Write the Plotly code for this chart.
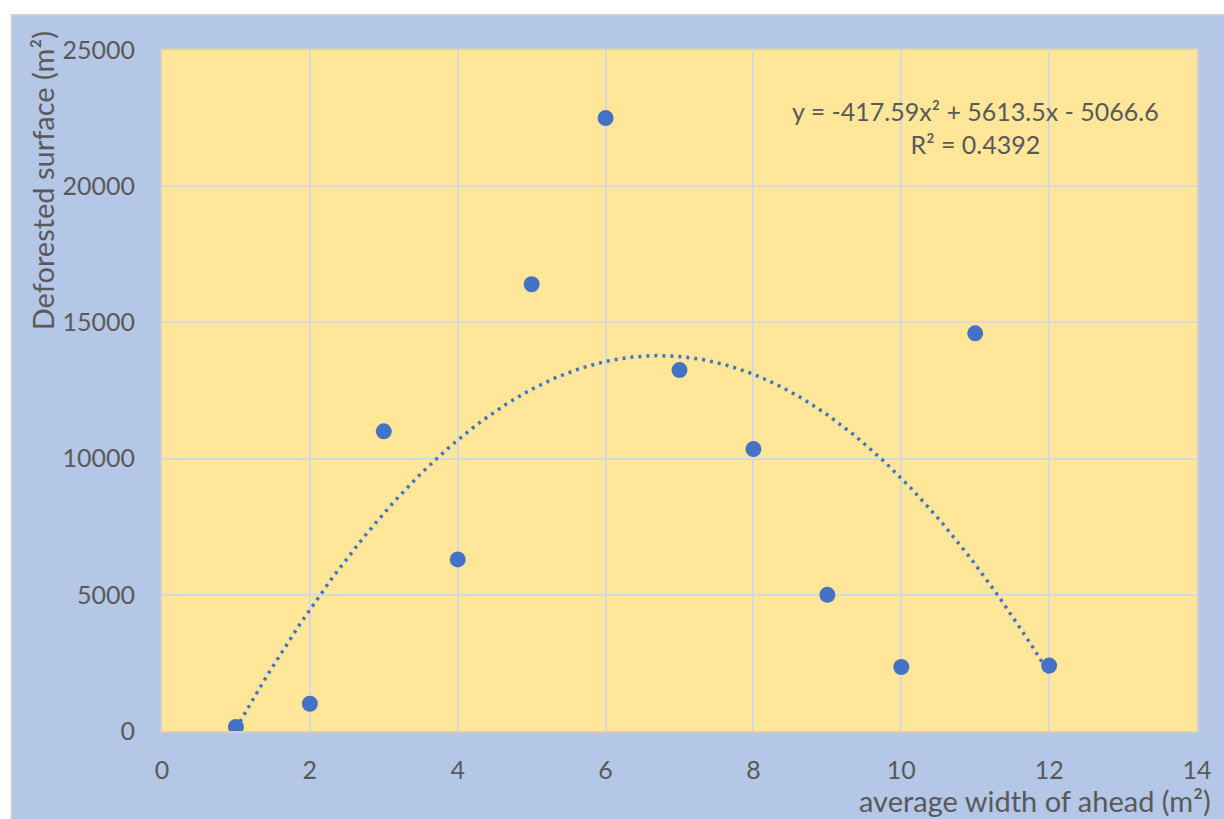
import numpy as np
import plotly.graph_objects as go

# data
width_ahead = [1, 2, 3, 4, 5, 6, 7, 8, 9, 10, 11, 12]
deforested = [150, 1000, 11000, 6300, 16400, 22500, 13250, 10350, 5000, 2350, 14600, 2400]
x_ticks = [0, 2, 4, 6, 8, 10, 12, 14]
y_ticks = [0, 5000, 10000, 15000, 20000, 25000]
equation_text = "y = -417.59x² + 5613.5x - 5066.6<br>R² = 0.4392"

# polynomial (order 2) trendline fitted on the data
coef = np.polyfit(width_ahead, deforested, 2)
xs = np.linspace(min(width_ahead), max(width_ahead), 200)
ys = np.polyval(coef, xs)

W, H = 1224, 819
L, R, T, B = 162, 16, 50, 88
PW, PH = W - L - R, H - T - B

def px_x(p):
    return (p - L) / PW

def px_y(p):
    return 1 - (p - T) / PH

BLUE = "#B4C7E7"
YELLOW = "#FFE699"
MARK = "#4472C4"
TXT = "#595959"
FONT = "Lato, Open Sans, sans-serif"

fig = go.Figure()
fig.add_trace(go.Scatter(x=xs, y=ys, mode="lines",
                         line=dict(color=MARK, width=3.5, dash="3px,5px"),
                         hoverinfo="skip", showlegend=False))
fig.add_trace(go.Scatter(x=width_ahead, y=deforested, mode="markers",
                         marker=dict(color=MARK, size=16),
                         showlegend=False))

shapes = [
    dict(type="rect", xref="paper", yref="paper", x0=-1, x1=2, y0=px_y(15), y1=2,
         fillcolor="white", line=dict(width=0), layer="below"),
    dict(type="rect", xref="paper", yref="paper", x0=-1, x1=px_x(10), y0=-1, y1=2,
         fillcolor="white", line=dict(width=0), layer="below"),
    dict(type="rect", xref="paper", yref="paper", x0=px_x(10), x1=px_x(1240),
         y0=px_y(840), y1=px_y(15), line=dict(color="#D0D0D0", width=2),
         fillcolor="rgba(0,0,0,0)", layer="below"),
]

fig.update_layout(
    width=W, height=H,
    margin=dict(l=L, r=R, t=T, b=B),
    paper_bgcolor=BLUE, plot_bgcolor=YELLOW,
    font=dict(family=FONT, color=TXT, size=25),
    shapes=shapes,
    xaxis=dict(range=[0, 14], tickvals=x_ticks, showgrid=True, gridcolor="#D6D8DE",
               gridwidth=2, zeroline=False, showline=True, linecolor="#CFCFCF",
               linewidth=2, mirror=True, ticks="", ticklabelstandoff=16,
               tickfont=dict(size=25, color=TXT)),
    yaxis=dict(range=[0, 25000], tickvals=y_ticks, tickformat="d", showgrid=True,
               gridcolor="#D6D8DE", gridwidth=2, zeroline=False, showline=True,
               linecolor="#CFCFCF", linewidth=2, mirror=True, ticks="",
               ticklabelstandoff=20, tickfont=dict(size=25, color=TXT)),
    annotations=[
        dict(text=equation_text, x=11.0, y=22160, xref="x", yref="y",
             xanchor="center", yanchor="middle",
             showarrow=False, font=dict(size=25, color=TXT), align="center"),
        dict(text="Deforested surface (m²)", textangle=-90, xref="paper", yref="paper",
             x=px_x(42), y=px_y(181), xanchor="center", yanchor="middle",
             showarrow=False, font=dict(size=29, color=TXT)),
        dict(text="average width of ahead (m²)", xref="paper", yref="paper",
             x=px_x(1224), y=px_y(801), xanchor="right", yanchor="middle",
             showarrow=False, font=dict(size=29, color=TXT)),
    ],
)

fig.write_html("out.html", config={"displayModeBar": False})
with open("out.html", "r", encoding="utf-8") as f:
    html = f.read()
html = html.replace("<body>", '<body style="margin:0;padding:0;overflow:hidden">', 1)
with open("out.html", "w", encoding="utf-8") as f:
    f.write(html)
